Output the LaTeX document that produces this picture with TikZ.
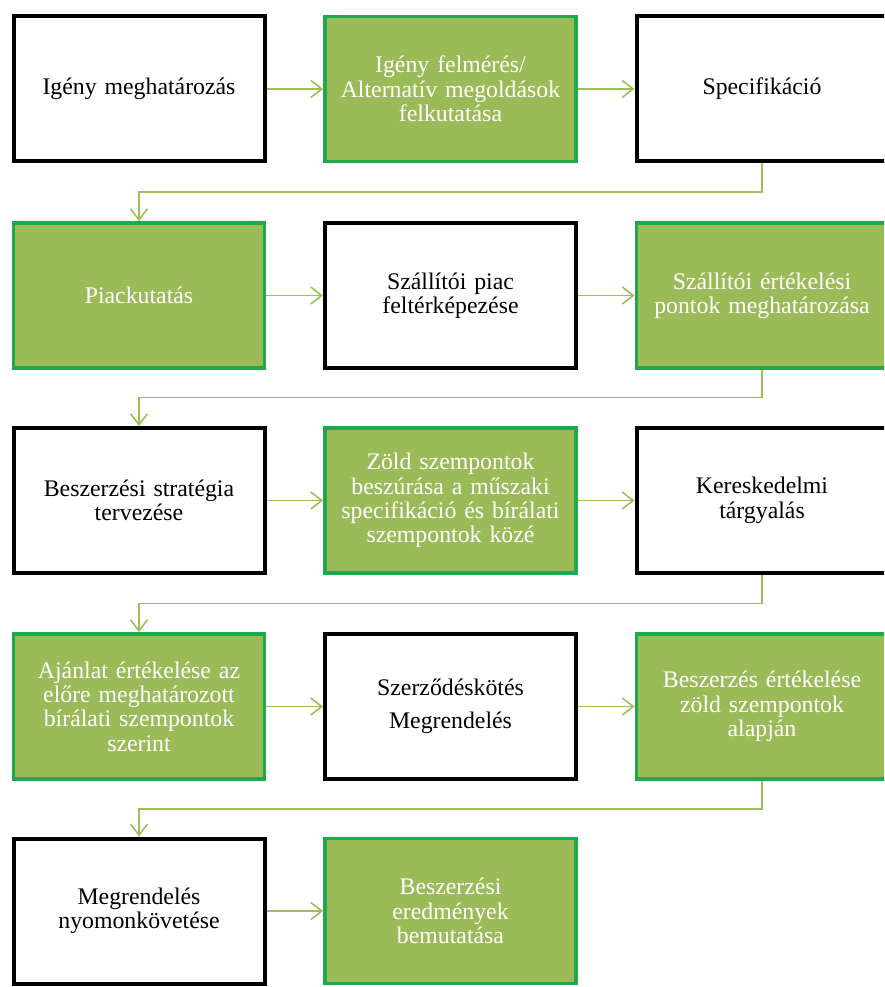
\documentclass[tikz,border=0pt]{standalone}
\usepackage{fontspec}
\setmainfont{Liberation Serif}
\usetikzlibrary{arrows.meta}
\definecolor{boxgreen}{RGB}{155,187,89}
\definecolor{edgegreen}{RGB}{32,168,78}
\definecolor{linegreen}{RGB}{155,192,90}
\tikzset{
  base/.style={rectangle, minimum width=251pt, minimum height=145pt, align=center,
    font=\fontsize{23.8pt}{24.4pt}\selectfont, inner sep=2pt, text width=244pt},
  whitebox/.style={base, draw=black, line width=4pt, fill=white, text=black},
  greenbox/.style={base, draw=edgegreen, line width=3.8pt, fill=boxgreen, text=white},
  conn/.style={draw=linegreen, line width=1.6pt, -{Straight Barb[length=11pt,width=17pt]}},
}
\begin{document}
\begin{tikzpicture}[x=1pt,y=-1pt]
\useasboundingbox (0,0) rectangle (884,987);
\begin{scope}
\clip (0,0) rectangle (884,987);
\node[whitebox] (a1) at (139,89) {Igény meghatározás};
\node[greenbox] (a2) at (450.5,89) {Igény felmérés/\\Alternatív megoldások\\felkutatása};
\node[whitebox] (a3) at (762,89) {Specifikáció};

\node[greenbox] (b1) at (139,295.5) {Piackutatás};
\node[whitebox] (b2) at (450.5,295.5) {Szállítói piac\\feltérképezése};
\node[greenbox] (b3) at (762,295.5) {Szállítói értékelési\\pontok meghatározása};

\node[whitebox] (c1) at (139,500.5) {Beszerzési stratégia\\tervezése};
\node[greenbox] (c2) at (450.5,500.5) {Zöld szempontok\\beszúrása a műszaki\\specifikáció és bírálati\\szempontok közé};
\node[whitebox] (c3) at (762,500.5) {Kereskedelmi\\tárgyalás};

\node[greenbox] (d1) at (139,706.5) {Ajánlat értékelése az\\előre meghatározott\\bírálati szempontok\\szerint};
\node[whitebox] (d2) at (450.5,706.5) {Szerződéskötés\\[9pt]Megrendelés};
\node[greenbox] (d3) at (762,706.5) {Beszerzés értékelése\\zöld szempontok\\alapján};

\node[whitebox] (e1) at (139,911) {Megrendelés\\nyomonkövetése};
\node[greenbox] (e2) at (450.5,911) {Beszerzési\\eredmények\\bemutatása};
\end{scope}

\coordinate (t1) at (0,192);
\coordinate (t2) at (0,397.5);
\coordinate (t3) at (0,603.5);
\coordinate (t4) at (0,809);

\path[conn] (a1) -- (a2);
\path[conn] (a2) -- (a3);
\path[conn] (b1) -- (b2);
\path[conn] (b2) -- (b3);
\path[conn] (c1) -- (c2);
\path[conn] (c2) -- (c3);
\path[conn] (d1) -- (d2);
\path[conn] (d2) -- (d3);
\path[conn] (e1) -- (e2);

\path[conn] (a3.south) -- (a3.south |- t1) -- (b1.north |- t1) -- (b1.north);
\path[conn] (b3.south) -- (b3.south |- t2) -- (c1.north |- t2) -- (c1.north);
\path[conn] (c3.south) -- (c3.south |- t3) -- (d1.north |- t3) -- (d1.north);
\path[conn] (d3.south) -- (d3.south |- t4) -- (e1.north |- t4) -- (e1.north);
\end{tikzpicture}
\end{document}
